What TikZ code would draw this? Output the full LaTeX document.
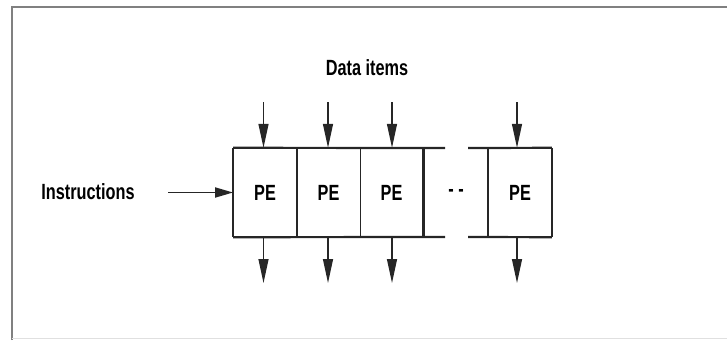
\documentclass[tikz,border=0pt]{standalone}
\usepackage{fontspec}
\setmainfont{Liberation Sans}
\usetikzlibrary{arrows.meta}
\newcommand{\cond}[1]{\scalebox{0.74}[1]{#1}}
\begin{document}
\begin{tikzpicture}[x=1pt,y=-1pt,
  lbl/.style={font=\fontsize{22}{24}\selectfont\bfseries, inner sep=0pt},
  cell/.style={minimum width=63.5pt, minimum height=89pt, inner sep=0pt, font=\fontsize{22}{24}\selectfont\bfseries},
  rail/.style={line width=2.2pt, black!85},
  sep/.style={line width=1.4pt, black!85},
  flow/.style={line width=1.3pt, black!85, -{Triangle[length=24pt,width=10pt]}},
  inflow/.style={line width=1.8pt, black!85, -{Triangle[length=18pt,width=10pt]}}]
\useasboundingbox (0,0) rectangle (727,340);
% frame
\draw[line width=2pt, black!50] (11.5,340) -- (11.5,7) -- (727,7);
\draw[line width=1.5pt, black!12] (11.5,338.5) -- (727,338.5);
% cells
\node[cell] (pe1) at (265,192.5) {\cond{PE}};
\node[cell] (pe2) at (328.5,192.5) {\cond{PE}};
\node[cell] (pe3) at (391.5,192.5) {\cond{PE}};
\node[cell] (dots) at (456,192.5) {\cond{- -}};
\node[cell] (pe4) at (520,192.5) {\cond{PE}};
% rails
\coordinate (tgapL) at (445,148);
\coordinate (tgapR) at (468,148);
\coordinate (bgapL) at (445,237);
\coordinate (bgapR) at (468,237);
\draw[rail] (pe1.north west) -- (tgapL);
\draw[rail] (tgapR) -- (pe4.north east);
\draw[rail] (pe1.south west) -- (bgapL);
\draw[rail] (bgapR) -- (pe4.south east);
% separators
\draw[sep] (pe1.north west) -- (pe1.south west);
\draw[sep] (pe1.north east) -- (pe1.south east);
\draw[sep] (pe2.north east) -- (pe2.south east);
\draw[rail] (pe3.north east) -- (pe3.south east);
\draw[sep] (pe4.north west) -- (pe4.south west);
\draw[sep] (pe4.north east) -- (pe4.south east);
% labels
\node[lbl] (data) at (367,68) {\cond{Data items}};
\node[lbl] (instr) at (88,192) {\cond{Instructions}};
% input arrows
\foreach \n/\x in {pe1/263.5, pe2/328, pe3/392, pe4/517} {
  \coordinate (in-\n) at (\x,102);
  \coordinate (out-\n) at (\x,283);
  \draw[flow] (in-\n) -- (in-\n |- \n.north);
  \draw[flow] (out-\n |- \n.south) -- (out-\n);
}
\coordinate (istart) at (168,192.5);
\draw[inflow] (istart) -- (pe1.west);
\end{tikzpicture}
\end{document}
